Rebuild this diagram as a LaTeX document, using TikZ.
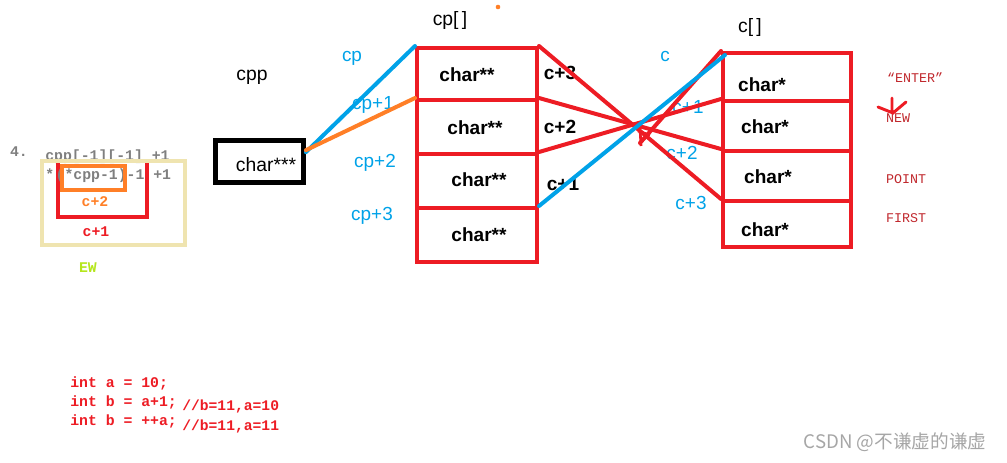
\documentclass[tikz,border=0pt]{standalone}
\usepackage{fontspec}
\setmainfont{Liberation Sans}
\newfontfamily\monof{Liberation Mono}
\newfontfamily\cjkf{Noto Sans CJK SC}
\definecolor{pred}{HTML}{ED1C24}
\definecolor{pblue}{HTML}{00A2E8}
\definecolor{porange}{HTML}{FF7F27}
\definecolor{pbeige}{HTML}{EFE4B0}
\definecolor{pgray}{HTML}{7F7F7F}
\definecolor{dred}{HTML}{C0282D}
\definecolor{pyg}{HTML}{B5E61D}
\begin{document}
\begin{tikzpicture}[x=0.75pt,y=-0.75pt,
  cell/.style={draw=pred,line width=3pt,inner sep=0pt},
  ctext/.style={font=\fontsize{14.3}{16}\selectfont\bfseries,inner sep=0pt},
  lbl/.style={font=\fontsize{14.5}{16}\selectfont,inner sep=0pt},
  blbl/.style={font=\fontsize{14.2}{16}\selectfont,inner sep=0pt,text=pblue},
  klbl/.style={font=\fontsize{14.3}{16}\selectfont\bfseries,inner sep=0pt},
  mono/.style={font=\monof\fontsize{11.1}{13}\selectfont\bfseries,inner sep=0pt},
  smono/.style={font=\monof\fontsize{10}{12}\selectfont,inner sep=0pt,text=dred},
  wire/.style={line width=3pt,line cap=round}]
\useasboundingbox (0,0) rectangle (1007,462);
% left annotation
\node[mono,text=pgray] (n4) at (19,152) {4.};
\node[mono,text=pgray,anchor=west] (t1) at (45,157) {cpp[-1][-1] +1};
\node[draw=pbeige,line width=3pt,minimum width=107pt,minimum height=63pt,inner sep=0pt] (beige) at (113.5,203) {};
\draw[pred,line width=3pt] (58,163) -- (58,217) -- (147,217) -- (147,163);
\node[mono,text=pgray,anchor=west] (t2) at (45,176) {*\hspace{0.1em}(*cpp-1)-1 +1};
\node[draw=porange,line width=3pt,minimum width=47pt,minimum height=18pt,inner sep=0pt] (orng) at (93.5,178) {};
\node[mono,text=porange] (c2) at (95,202) {c+2};
\node[mono,text=pred] (c1) at (96,232) {c+1};
\node[mono,text=pyg] (ew) at (88,268) {EW};
% cpp
\node[lbl] (cpplbl) at (252,77) {cpp};
\node[draw=black,line width=3.6pt,minimum width=66pt,minimum height=31.5pt,inner sep=0pt] (cpp) at (259.5,161.5) {};
\node[lbl] (cpptext) at (266,165) {char***};
% cp array
\node[lbl] (cplbl) at (450,20) {cp[\,]};
\fill[porange] (498,7) circle (2.3);
\node[cell,minimum width=90pt,minimum height=39pt] (cp1) at (477,74) {};
\node[cell,minimum width=90pt,minimum height=40.5pt] (cp2) at (477,127) {};
\node[cell,minimum width=90pt,minimum height=40.5pt] (cp3) at (477,181) {};
\node[cell,minimum width=90pt,minimum height=40.5pt] (cp4) at (477,235) {};
\node[ctext] (cpt1) at (467,75) {char**};
\node[ctext] (cpt2) at (475,128) {char**};
\node[ctext] (cpt3) at (479,180) {char**};
\node[ctext] (cpt4) at (479,235) {char**};
\node[blbl] (l1) at (352,58) {cp};
\node[blbl] (l2) at (373,105) {cp+1};
\node[blbl] (l3) at (375,163) {cp+2};
\node[blbl] (l4) at (372,216) {cp+3};
% c array
\node[lbl] (clbl) at (750,27) {c[\,]};
\node[cell,minimum width=96pt,minimum height=36pt] (c01) at (787,77) {};
\node[cell,minimum width=96pt,minimum height=37.5pt] (c02) at (787,126) {};
\node[cell,minimum width=96pt,minimum height=37.5pt] (c03) at (787,176) {};
\node[cell,minimum width=96pt,minimum height=34.5pt] (c04) at (787,224) {};
\node[ctext] (ct1) at (762,85) {char*};
\node[ctext] (ct2) at (765,127) {char*};
\node[ctext] (ct3) at (768,177) {char*};
\node[ctext] (ct4) at (765,230) {char*};
% cross labels
\node[klbl] (k3) at (560,73) {c+3};
\node[klbl] (k2) at (560,127) {c+2};
\node[klbl] (k1) at (563,184) {c+1};
\node[blbl] (m0) at (665,56) {c};
\node[blbl] (m1) at (688,107) {c+1};
\node[blbl] (m2) at (682,153) {c+2};
\node[blbl] (m3) at (691,203) {c+3};
% connectors
\draw[wire,pred] (cp1.north east) -- (c04.north west);
\draw[wire,pred] (cp2.north east) -- (c03.north west);
\draw[wire,pred] (cp3.north east) -- (c02.north west);
\coordinate (x0) at (640,143);
\draw[wire,pred] (x0) -- (c01.north west);
\draw[pred,line width=2pt] (638,131) -- (650,135) (640,128) -- (641,146);
\draw[wire,pblue] (cp4.north east) -- ([xshift=3pt,yshift=-3pt]c01.north west);
\draw[wire,pblue] ([yshift=7pt]cpp.east) -- (cp1.north west);
\draw[wire,porange] ([yshift=8.5pt]cpp.east) -- (cp2.north west);
% right strings
\node[smono] (s1) at (915,78) {“ENTER”};
\node[smono] (s2) at (898,118) {NEW};
\node[smono] (s3) at (906,179) {POINT};
\node[smono] (s4) at (906,218) {FIRST};
\draw[pred,line width=2.2pt,line cap=round] (878,107) -- (893,113) -- (906,102) (892,98) -- (892,113);
% code
\node[mono,text=pred,anchor=west] (code1) at (70,383) {int a = 10;};
\node[mono,text=pred,anchor=west] (code2) at (70,402) {int b = a+1;};
\node[mono,text=pred,anchor=west] (code3) at (70,421) {int b = ++a;};
\node[mono,text=pred,anchor=west,font=\monof\fontsize{11}{12}\selectfont\bfseries] (cm1) at (182,406) {//b=11,a=10};
\node[mono,text=pred,anchor=west,font=\monof\fontsize{11}{12}\selectfont\bfseries] (cm2) at (182,426) {//b=11,a=11};
% watermark
\node[inner sep=0pt,text=gray!70,font=\cjkf\fontsize{14}{16}\selectfont] (wm) at (895,442) {CSDN @不谦虚的谦虚};
\end{tikzpicture}
\end{document}
